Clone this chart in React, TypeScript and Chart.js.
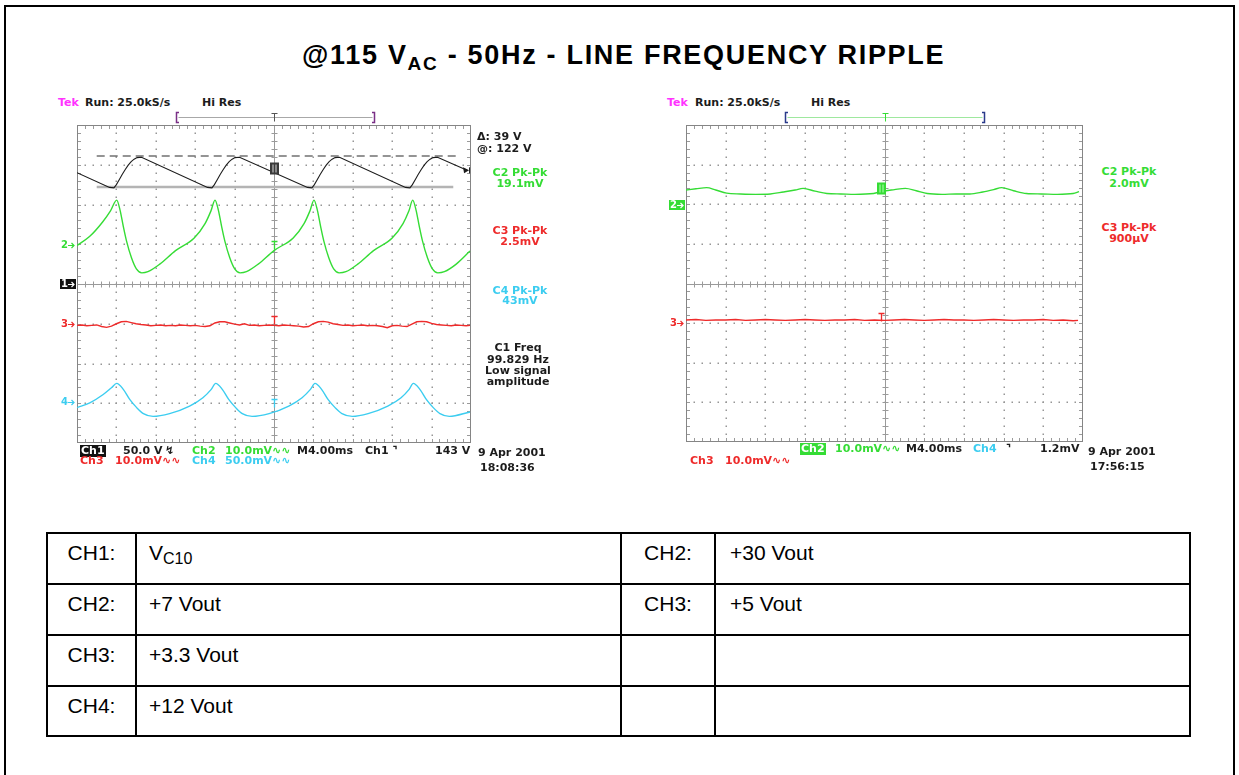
import React, { useEffect, useRef } from "react";
import { Chart, registerables } from "chart.js";
Chart.register(...registerables);

// ---------- axes: time in ms (M 4.00 ms/div, 10 div), amplitude in screen divisions (8 div) ----------
const timeMin = 0;
const timeMax = 40;
const divMin = -4;
const divMax = 4;

// ---------- left capture (18:08:36) ----------
const ch1VoltsPerDiv = 50;
const cursorAtVolts = 122;
const cursorDeltaVolts = 39;
const trigLevelVolts = 143;

const leftCh1T = [0, 3.3, 3.75, 4.0, 4.3, 4.6, 4.9, 5.2, 5.5, 5.8, 6.1, 6.55, 13.25, 13.7, 13.95, 14.25, 14.55, 14.85, 15.15, 15.45, 15.75, 16.05, 16.5, 23.4, 23.85, 24.1, 24.4, 24.7, 25.0, 25.3, 25.6, 25.9, 26.2, 26.65, 33.35, 33.8, 34.05, 34.35, 34.65, 34.95, 35.25, 35.55, 35.85, 36.15, 36.6, 39.6];
const leftCh1V = [2.80, 2.43, 2.42, 2.50, 2.63, 2.76, 2.88, 2.99, 3.08, 3.14, 3.18, 3.19, 2.43, 2.42, 2.50, 2.63, 2.76, 2.88, 2.99, 3.08, 3.14, 3.18, 3.19, 2.43, 2.42, 2.50, 2.63, 2.76, 2.88, 2.99, 3.08, 3.14, 3.18, 3.19, 2.43, 2.42, 2.50, 2.63, 2.76, 2.88, 2.99, 3.08, 3.14, 3.18, 3.19, 2.86];

const leftCh2T = [0, 1.3, 2.6, 3.4, 4.03, 4.37, 4.7, 5.03, 5.53, 6.03, 6.58, 7.2, 8.4, 10.0, 11.9, 13.0, 13.6, 14.01, 14.35, 14.68, 15.01, 15.51, 16.01, 16.56, 17.2, 18.4, 20.0, 21.95, 23.05, 23.65, 24.06, 24.4, 24.73, 25.06, 25.56, 26.06, 26.61, 27.3, 28.5, 30.1, 32.0, 33.1, 33.7, 34.08, 34.42, 34.75, 35.08, 35.58, 36.08, 36.63, 37.3, 38.5, 39.9];
const leftCh2V = [0.97, 1.20, 1.56, 1.84, 2.11, 1.86, 1.45, 1.08, 0.66, 0.38, 0.28, 0.31, 0.50, 0.84, 1.16, 1.52, 1.84, 2.11, 1.86, 1.45, 1.08, 0.66, 0.38, 0.28, 0.31, 0.50, 0.84, 1.16, 1.52, 1.84, 2.11, 1.86, 1.45, 1.08, 0.66, 0.38, 0.28, 0.31, 0.50, 0.84, 1.16, 1.52, 1.84, 2.11, 1.86, 1.45, 1.08, 0.66, 0.38, 0.28, 0.31, 0.50, 0.83];

const leftCh3T = [0, 0.5, 1, 1.5, 2, 2.5, 3, 3.5, 4, 4.5, 5, 5.5, 6, 6.5, 7, 7.5, 8, 8.5, 9, 9.5, 10, 10.5, 11, 11.5, 12, 12.5, 13, 13.5, 14, 14.5, 15, 15.5, 16, 16.5, 17, 17.5, 18, 18.5, 19, 19.5, 20, 20.5, 21, 21.5, 22, 22.5, 23, 23.5, 24, 24.5, 25, 25.5, 26, 26.5, 27, 27.5, 28, 28.5, 29, 29.5, 30, 30.5, 31, 31.5, 32, 32.5, 33, 33.5, 34, 34.5, 35, 35.5, 36, 36.5, 37, 37.5, 38, 38.5, 39, 39.5, 39.9];
const leftCh3V = [
  -1.04, -1.03, -1.05, -1.04, -1.03, -1.07, -1.09, -1.06, -1.00, -0.95,
  -0.94, -0.97, -1.00, -1.02, -1.03, -1.05, -1.04, -1.03, -1.05, -1.04,
  -1.05, -1.03, -1.04, -1.05, -1.04, -1.06, -1.07, -1.05, -0.98, -0.95,
  -0.95, -0.98, -1.01, -1.03, -1.00, -1.04, -1.03, -1.05, -1.04, -1.03,
  -1.04, -1.05, -1.03, -1.04, -1.05, -1.06, -1.08, -1.07, -1.00, -0.95,
  -0.94, -0.96, -1.00, -1.02, -1.04, -1.03, -1.05, -1.04, -1.03, -1.05,
  -1.04, -1.05, -1.07, -1.10, -1.05, -1.04, -1.06, -1.07, -1.01, -0.95,
  -0.94, -0.95, -0.99, -1.02, -1.03, -1.04, -1.05, -1.03, -1.04, -1.05,
  -1.04,
];

const leftCh4T = [0, 1.3, 2.66, 3.5, 4.03, 4.7, 5.37, 6.06, 6.74, 7.72, 9.4, 11.43, 12.78, 13.63, 14.08, 14.75, 15.42, 16.11, 16.78, 17.78, 19.5, 21.5, 22.85, 23.7, 24.16, 24.83, 25.5, 26.2, 26.9, 27.95, 29.55, 31.55, 32.9, 33.72, 34.14, 34.81, 35.48, 36.17, 36.85, 37.8, 39.9];
const leftCh4V = [-3.11, -2.99, -2.78, -2.61, -2.50, -2.65, -2.91, -3.11, -3.26, -3.33, -3.26, -3.07, -2.86, -2.65, -2.50, -2.65, -2.91, -3.11, -3.26, -3.33, -3.26, -3.07, -2.86, -2.65, -2.50, -2.65, -2.91, -3.11, -3.26, -3.33, -3.26, -3.07, -2.86, -2.65, -2.50, -2.65, -2.91, -3.11, -3.26, -3.33, -3.22];

// channel ground markers (div) for left capture: CH1, CH2, CH3, CH4
const leftGroundDiv = [0, 0.99, -1.0, -2.97];

// ---------- right capture (17:56:15) ----------
const rightCh2T = [0, 1.0, 2.08, 3.0, 4.1, 5.5, 7.0, 8.5, 9.8, 11.0, 11.8, 13.0, 14.2, 15.6, 17.0, 18.9, 19.8, 21.0, 22.1, 23.2, 24.3, 25.8, 27.2, 28.6, 29.9, 31.0, 31.8, 33.0, 34.3, 35.8, 37.4, 39.0, 39.6];
const rightCh2V = [2.36, 2.39, 2.42, 2.36, 2.28, 2.26, 2.25, 2.26, 2.31, 2.36, 2.40, 2.33, 2.27, 2.26, 2.25, 2.27, 2.33, 2.37, 2.40, 2.34, 2.27, 2.25, 2.26, 2.26, 2.31, 2.37, 2.42, 2.34, 2.27, 2.26, 2.25, 2.27, 2.32];

const rightCh3T = [0, 1, 2, 3, 4, 5, 6, 7, 8, 9, 10, 11, 12, 13, 14, 15, 16, 17, 18, 19, 20, 21, 22, 23, 24, 25, 26, 27, 28, 29, 30, 31, 32, 33, 34, 35, 36, 37, 38, 39, 39.5];
const rightCh3V = [
  -0.92, -0.91, -0.93, -0.92, -0.92, -0.91, -0.93, -0.92, -0.91, -0.92,
  -0.93, -0.92, -0.91, -0.92, -0.93, -0.92, -0.92, -0.91, -0.93, -0.92,
  -0.93, -0.92, -0.91, -0.92, -0.93, -0.92, -0.91, -0.92, -0.92, -0.93,
  -0.92, -0.91, -0.92, -0.93, -0.92, -0.92, -0.91, -0.93, -0.92, -0.94,
  -0.93,
];
// channel ground markers (div) for right capture: CH2, CH3
const rightGroundDiv = [1.98, -1.0];

// ---------- table ----------
const tableChA = ["CH1:", "CH2:", "CH3:", "CH4:"];
const tableSigA = ["VC10", "+7 Vout", "+3.3 Vout", "+12 Vout"];
const tableChB = ["CH2:", "CH3:", "", ""];
const tableSigB = ["+30 Vout", "+5 Vout", "", ""];

// ---------- styling ----------
const GREEN = "#35dc35";
const RED = "#ee2b2b";
const CYAN = "#3ccdf0";
const MAGENTA = "#ff33ff";
const INK = "#1c1c1c";
const SCOPE_FONT = '"DejaVu Sans", Verdana, sans-serif';

const pts = (t: number[], v: number[]) => t.map((x, i) => ({ x, y: v[i] }));

type Mark = { t: number; v: number; color: string; kind: "T" | "box"; inner?: string };
type ChLabel = { text: string; v: number; color: string; bg?: string };
type ScopeCfg = {
  marks: Mark[];
  labels: ChLabel[];
  bracket: { from: number; to: number; edge: string; line: string; t: string };
  endArrow?: { t: number; v: number };
};

function makeScopePlugin(cfg: ScopeCfg) {
  return {
    id: "scopeGraticule",
    beforeDatasetsDraw(chart: any) {
      const { ctx, chartArea: a, scales } = chart;
      const xs = scales.x;
      const ys = scales.y;
      ctx.save();
      // dotted major lines
      ctx.fillStyle = "#969696";
      for (let i = 1; i < 10; i++) {
        if (i === 5) continue;
        const px = Math.round(xs.getPixelForValue(i * 4));
        for (let k = 1; k < 40; k++) {
          const py = Math.round(ys.getPixelForValue(-4 + k * 0.2));
          ctx.fillRect(px - 0.5, py - 0.5, 1.5, 1.5);
        }
      }
      for (let j = -3; j <= 3; j++) {
        if (j === 0) continue;
        const py = Math.round(ys.getPixelForValue(j));
        for (let k = 1; k < 50; k++) {
          const px = Math.round(xs.getPixelForValue(k * 0.8));
          ctx.fillRect(px - 0.5, py - 0.5, 1.5, 1.5);
        }
      }
      // center cross with ticks
      ctx.strokeStyle = "#9a9a9a";
      ctx.lineWidth = 1;
      const cx = Math.round(xs.getPixelForValue(20)) + 0.5;
      const cy = Math.round(ys.getPixelForValue(0)) + 0.5;
      ctx.beginPath();
      ctx.moveTo(a.left, cy);
      ctx.lineTo(a.right, cy);
      ctx.moveTo(cx, a.top);
      ctx.lineTo(cx, a.bottom);
      for (let k = 1; k < 50; k++) {
        const px = Math.round(xs.getPixelForValue(k * 0.8)) + 0.5;
        ctx.moveTo(px, cy - 3);
        ctx.lineTo(px, cy + 3);
        ctx.moveTo(px, a.top);
        ctx.lineTo(px, a.top + 4);
        ctx.moveTo(px, a.bottom);
        ctx.lineTo(px, a.bottom - 4);
      }
      for (let k = 1; k < 40; k++) {
        const py = Math.round(ys.getPixelForValue(-4 + k * 0.2)) + 0.5;
        ctx.moveTo(cx - 3, py);
        ctx.lineTo(cx + 3, py);
        ctx.moveTo(a.left, py);
        ctx.lineTo(a.left + 4, py);
        ctx.moveTo(a.right, py);
        ctx.lineTo(a.right - 4, py);
      }
      ctx.stroke();
      // border
      ctx.strokeStyle = "#858585";
      ctx.strokeRect(Math.round(a.left) + 0.5, Math.round(a.top) + 0.5, Math.round(a.right - a.left) - 1, Math.round(a.bottom - a.top) - 1);
      ctx.restore();
    },
    afterDatasetsDraw(chart: any) {
      const { ctx, chartArea: a, scales } = chart;
      const xs = scales.x;
      const ys = scales.y;
      ctx.save();
      // record-window bracket above graticule
      const b = cfg.bracket;
      const by = a.top - 7.5;
      const x0 = Math.round(xs.getPixelForValue(b.from)) + 0.5;
      const x1 = Math.round(xs.getPixelForValue(b.to)) + 0.5;
      const xm = Math.round(xs.getPixelForValue(20)) + 0.5;
      ctx.lineWidth = 1;
      ctx.strokeStyle = b.line;
      ctx.beginPath();
      ctx.moveTo(x0 + 2, by);
      ctx.lineTo(x1 - 2, by);
      ctx.stroke();
      ctx.strokeStyle = b.edge;
      ctx.lineWidth = 1.5;
      ctx.beginPath();
      ctx.moveTo(x0 + 2.5, by - 5);
      ctx.lineTo(x0, by - 5);
      ctx.lineTo(x0, by + 5);
      ctx.lineTo(x0 + 2.5, by + 5);
      ctx.moveTo(x1 - 2.5, by - 5);
      ctx.lineTo(x1, by - 5);
      ctx.lineTo(x1, by + 5);
      ctx.lineTo(x1 - 2.5, by + 5);
      ctx.stroke();
      ctx.strokeStyle = b.t;
      ctx.lineWidth = 1;
      ctx.beginPath();
      ctx.moveTo(xm - 3, by - 4);
      ctx.lineTo(xm + 3, by - 4);
      ctx.moveTo(xm, by - 4);
      ctx.lineTo(xm, by + 4);
      ctx.stroke();

      // trigger-point marks on traces
      for (const m of cfg.marks) {
        const px = Math.round(xs.getPixelForValue(m.t)) + 0.5;
        const py = Math.round(ys.getPixelForValue(m.v)) + 0.5;
        if (m.kind === "box") {
          ctx.fillStyle = m.color;
          ctx.fillRect(px - 4.5, py - 6, 9, 12);
          ctx.strokeStyle = m.inner || "#fff";
          ctx.lineWidth = 1;
          ctx.beginPath();
          ctx.moveTo(px - 1.5, py - 4);
          ctx.lineTo(px - 1.5, py + 4);
          ctx.moveTo(px + 1.5, py - 4);
          ctx.lineTo(px + 1.5, py + 4);
          ctx.stroke();
        } else {
          ctx.strokeStyle = m.color;
          ctx.lineWidth = 1.3;
          ctx.beginPath();
          ctx.moveTo(px - 3, py - 4);
          ctx.lineTo(px + 3, py - 4);
          ctx.moveTo(px, py - 4);
          ctx.lineTo(px, py + 4);
          ctx.stroke();
        }
      }

      // channel ground labels at left edge
      ctx.font = `bold 10px ${SCOPE_FONT}`;
      ctx.textBaseline = "middle";
      for (const l of cfg.labels) {
        const py = Math.round(ys.getPixelForValue(l.v));
        const lx = a.left - 17;
        if (l.bg) {
          ctx.fillStyle = l.bg;
          ctx.fillRect(lx, py - 5, 16, 10);
        }
        ctx.fillStyle = l.color;
        ctx.fillText(l.text, lx + 1, py + 0.5);
        ctx.strokeStyle = l.color;
        ctx.lineWidth = 1.2;
        ctx.beginPath();
        ctx.moveTo(lx + 8, py + 0.5);
        ctx.lineTo(lx + 14, py + 0.5);
        ctx.moveTo(lx + 11.5, py - 2);
        ctx.lineTo(lx + 14, py + 0.5);
        ctx.lineTo(lx + 11.5, py + 3);
        ctx.stroke();
      }

      // trace end arrow (CH1)
      if (cfg.endArrow) {
        const px = xs.getPixelForValue(cfg.endArrow.t);
        const py = ys.getPixelForValue(cfg.endArrow.v);
        ctx.fillStyle = INK;
        ctx.beginPath();
        ctx.moveTo(px - 4, py - 3);
        ctx.lineTo(px + 2, py);
        ctx.lineTo(px - 3, py + 3);
        ctx.closePath();
        ctx.fill();
        ctx.strokeStyle = INK;
        ctx.lineWidth = 1;
        ctx.beginPath();
        ctx.moveTo(px + 2.5, py - 3);
        ctx.lineTo(px + 2.5, py + 3);
        ctx.stroke();
      }
      ctx.restore();
    },
  };
}

function ScopeChart(props: { left: number; top: number; width: number; height: number; pad: any; datasets: any[]; cfg: ScopeCfg }) {
  const ref = useRef<HTMLCanvasElement>(null);
  useEffect(() => {
    const chart = new Chart(ref.current as HTMLCanvasElement, {
      type: "line",
      data: { datasets: props.datasets },
      options: {
        animation: false,
        responsive: false,
        maintainAspectRatio: false,
        events: [],
        layout: { padding: props.pad },
        plugins: { legend: { display: false }, tooltip: { enabled: false } },
        elements: { point: { radius: 0 } },
        scales: {
          x: { type: "linear", min: timeMin, max: timeMax, display: false },
          y: { type: "linear", min: divMin, max: divMax, display: false },
        },
      } as any,
      plugins: [makeScopePlugin(props.cfg) as any],
    });
    return () => chart.destroy();
  }, []);
  return (
    <canvas
      ref={ref}
      width={props.width}
      height={props.height}
      style={{ position: "absolute", left: props.left, top: props.top, width: props.width, height: props.height }}
    />
  );
}

function Lbl(p: { x: number; y: number; color?: string; center?: boolean; bg?: string; children: any }) {
  return (
    <div
      style={{
        position: "absolute",
        left: p.x,
        top: p.y - 6,
        font: `bold 11px ${SCOPE_FONT}`,
        lineHeight: "12px",
        color: p.color || INK,
        whiteSpace: "nowrap",
        transform: p.center ? "translateX(-50%)" : undefined,
        background: p.bg,
        padding: p.bg ? "0 1px" : undefined,
      }}
    >
      {p.children}
    </div>
  );
}

const line = (data: any[], color: string, width: number, smooth: boolean, extra: any = {}) => ({
  data,
  borderColor: color,
  borderWidth: width,
  pointRadius: 0,
  fill: false,
  showLine: true,
  cubicInterpolationMode: smooth ? "monotone" : "default",
  tension: 0,
  ...extra,
});

export default function App() {
  const cursorLower = cursorAtVolts / ch1VoltsPerDiv;
  const cursorUpper = (cursorAtVolts + cursorDeltaVolts) / ch1VoltsPerDiv;
  const trigDiv = trigLevelVolts / ch1VoltsPerDiv;

  const leftDatasets = [
    line(pts(leftCh1T, leftCh1V), INK, 1.1, false),
    line(pts(leftCh2T, leftCh2V), GREEN, 1.4, true),
    line(pts(leftCh3T, leftCh3V), RED, 1.4, false),
    line(pts(leftCh4T, leftCh4V), CYAN, 1.4, true),
    line([{ x: 2.0, y: cursorUpper }, { x: 38.8, y: cursorUpper }], "#2a2a2a", 1.2, false, { borderDash: [8, 5] }),
    line([{ x: 2.0, y: cursorLower }, { x: 38.2, y: cursorLower }], "#b4b4b4", 2.5, false),
  ];
  const rightDatasets = [
    line(pts(rightCh2T, rightCh2V), GREEN, 1.4, true),
    line(pts(rightCh3T, rightCh3V), RED, 1.4, false),
  ];

  const leftCfg: ScopeCfg = {
    marks: [
      { t: 20, v: trigDiv + 0.06, color: "#3a3a3a", kind: "box", inner: "#d8d8d8" },
      { t: 20, v: leftGroundDiv[1] - 0.02, color: GREEN, kind: "T" },
      { t: 20, v: leftGroundDiv[2] + 0.1, color: RED, kind: "T" },
      { t: 20, v: leftGroundDiv[3] - 0.03, color: CYAN, kind: "T" },
    ],
    labels: [
      { text: "2", v: leftGroundDiv[1], color: GREEN },
      { text: "1", v: leftGroundDiv[0], color: "#fff", bg: "#111" },
      { text: "3", v: leftGroundDiv[2], color: RED },
      { text: "4", v: leftGroundDiv[3], color: CYAN },
    ],
    bracket: { from: 10, to: 30.2, edge: "#7a2f86", line: "#a8a8a8", t: "#555" },
    endArrow: { t: leftCh1T[leftCh1T.length - 1], v: leftCh1V[leftCh1V.length - 1] },
  };
  const rightCfg: ScopeCfg = {
    marks: [
      { t: 19.6, v: 2.4, color: GREEN, kind: "box", inner: "#b8ffb8" },
      { t: 19.6, v: -0.84, color: RED, kind: "T" },
    ],
    labels: [
      { text: "2", v: rightGroundDiv[0], color: "#fff", bg: GREEN },
      { text: "3", v: rightGroundDiv[1], color: RED },
    ],
    bracket: { from: 10, to: 30, edge: "#2a3a8a", line: "#9ee89e", t: GREEN },
  };

  const cell: React.CSSProperties = {
    border: "2px solid #000",
    padding: "0 0 11px 0",
    verticalAlign: "middle",
    whiteSpace: "nowrap",
  };

  const renderSig = (s: string) =>
    s === "VC10" ? (
      <span>
        V<span style={{ fontSize: 16, position: "relative", top: 4 }}>C10</span>
      </span>
    ) : (
      s
    );

  return (
    <div style={{ position: "absolute", left: 0, top: 0, width: 1239, height: 775, overflow: "hidden", background: "#fff" }}>
      {/* figure frame */}
      <div
        style={{
          position: "absolute",
          left: 4,
          top: 5,
          width: 1231,
          height: 780,
          boxSizing: "border-box",
          borderTop: "2px solid #000",
          borderLeft: "2px solid #000",
          borderRight: "2px solid #000",
        }}
      />
      {/* title */}
      <div
        style={{
          position: "absolute",
          left: 302,
          top: 42,
          font: 'bold 27px "Liberation Sans", Arial, sans-serif',
          lineHeight: "27px",
          letterSpacing: "1.7px",
          whiteSpace: "nowrap",
          color: "#000",
        }}
      >
        @115 V<span style={{ fontSize: 19, position: "relative", top: 6 }}>AC</span> - 50Hz - LINE FREQUENCY RIPPLE
      </div>

      {/* ---------- left scope ---------- */}
      <Lbl x={58} y={103} color={MAGENTA}>Tek</Lbl>
      <Lbl x={85} y={103}>Run: 25.0kS/s</Lbl>
      <Lbl x={202} y={103}>Hi Res</Lbl>
      <ScopeChart left={57} top={110} width={425} height={345} pad={{ left: 20, top: 15, right: 11, bottom: 12 }} datasets={leftDatasets} cfg={leftCfg} />
      <Lbl x={477} y={137}>{`Δ: ${cursorDeltaVolts} V`}</Lbl>
      <Lbl x={477} y={149}>{`@: ${cursorAtVolts} V`}</Lbl>
      <Lbl x={520} y={173} center color={GREEN}>C2 Pk-Pk</Lbl>
      <Lbl x={520} y={184} center color={GREEN}>19.1mV</Lbl>
      <Lbl x={520} y={231} center color={RED}>C3 Pk-Pk</Lbl>
      <Lbl x={520} y={242} center color={RED}>2.5mV</Lbl>
      <Lbl x={520} y={291} center color={CYAN}>C4 Pk-Pk</Lbl>
      <Lbl x={520} y={301} center color={CYAN}>43mV</Lbl>
      <Lbl x={518} y={348} center>C1 Freq</Lbl>
      <Lbl x={518} y={359.5} center>99.829 Hz</Lbl>
      <Lbl x={518} y={371} center>Low signal</Lbl>
      <Lbl x={518} y={382} center>amplitude</Lbl>

      <Lbl x={80} y={451} color="#fff" bg="#111">Ch1</Lbl>
      <Lbl x={123} y={451}>{`${ch1VoltsPerDiv.toFixed(1)} V`}</Lbl>
      <Lbl x={165} y={451}>↯</Lbl>
      <Lbl x={192} y={451} color={GREEN}>Ch2</Lbl>
      <Lbl x={225} y={451} color={GREEN}>10.0mV∿∿</Lbl>
      <Lbl x={297} y={451}>M4.00ms</Lbl>
      <Lbl x={365} y={451}>Ch1 ⌝</Lbl>
      <Lbl x={435} y={451}>{`${trigLevelVolts} V`}</Lbl>
      <Lbl x={478} y={453}>9 Apr 2001</Lbl>
      <Lbl x={480} y={468}>18:08:36</Lbl>
      <Lbl x={80} y={461} color={RED}>Ch3</Lbl>
      <Lbl x={115} y={461} color={RED}>10.0mV∿∿</Lbl>
      <Lbl x={192} y={461} color={CYAN}>Ch4</Lbl>
      <Lbl x={225} y={461} color={CYAN}>50.0mV∿∿</Lbl>

      {/* ---------- right scope ---------- */}
      <Lbl x={667} y={103} color={MAGENTA}>Tek</Lbl>
      <Lbl x={695} y={103}>Run: 25.0kS/s</Lbl>
      <Lbl x={811} y={103}>Hi Res</Lbl>
      <ScopeChart left={666} top={110} width={430} height={345} pad={{ left: 20, top: 15, right: 13, bottom: 13 }} datasets={rightDatasets} cfg={rightCfg} />
      <Lbl x={1129} y={172} center color={GREEN}>C2 Pk-Pk</Lbl>
      <Lbl x={1129} y={183.5} center color={GREEN}>2.0mV</Lbl>
      <Lbl x={1129} y={228} center color={RED}>C3 Pk-Pk</Lbl>
      <Lbl x={1129} y={239} center color={RED}>900μV</Lbl>

      <Lbl x={800} y={449} color="#fff" bg={GREEN}>Ch2</Lbl>
      <Lbl x={835} y={449} color={GREEN}>10.0mV∿∿</Lbl>
      <Lbl x={906} y={449}>M4.00ms</Lbl>
      <Lbl x={973} y={449} color={CYAN}>Ch4</Lbl>
      <Lbl x={1006} y={449}>⌝</Lbl>
      <Lbl x={1040} y={449}>1.2mV</Lbl>
      <Lbl x={1088} y={452}>9 Apr 2001</Lbl>
      <Lbl x={1090} y={467}>17:56:15</Lbl>
      <Lbl x={690} y={461} color={RED}>Ch3</Lbl>
      <Lbl x={725} y={461} color={RED}>10.0mV∿∿</Lbl>

      {/* ---------- table ---------- */}
      <table
        style={{
          position: "absolute",
          left: 46,
          top: 532,
          width: 1143,
          borderCollapse: "collapse",
          tableLayout: "fixed",
          font: '21px "Liberation Sans", Arial, sans-serif',
          color: "#000",
        }}
      >
        <colgroup>
          <col style={{ width: 89 }} />
          <col style={{ width: 485 }} />
          <col style={{ width: 94 }} />
          <col style={{ width: 475 }} />
        </colgroup>
        <tbody>
          {tableChA.map((c, i) => (
            <tr key={i} style={{ height: i === 3 ? 50 : 51 }}>
              <td style={{ ...cell, textAlign: "center" }}>{c}</td>
              <td style={{ ...cell, paddingLeft: 12 }}>{renderSig(tableSigA[i])}</td>
              <td style={{ ...cell, textAlign: "center" }}>{tableChB[i]}</td>
              <td style={{ ...cell, paddingLeft: 14 }}>{tableSigB[i]}</td>
            </tr>
          ))}
        </tbody>
      </table>
    </div>
  );
}
